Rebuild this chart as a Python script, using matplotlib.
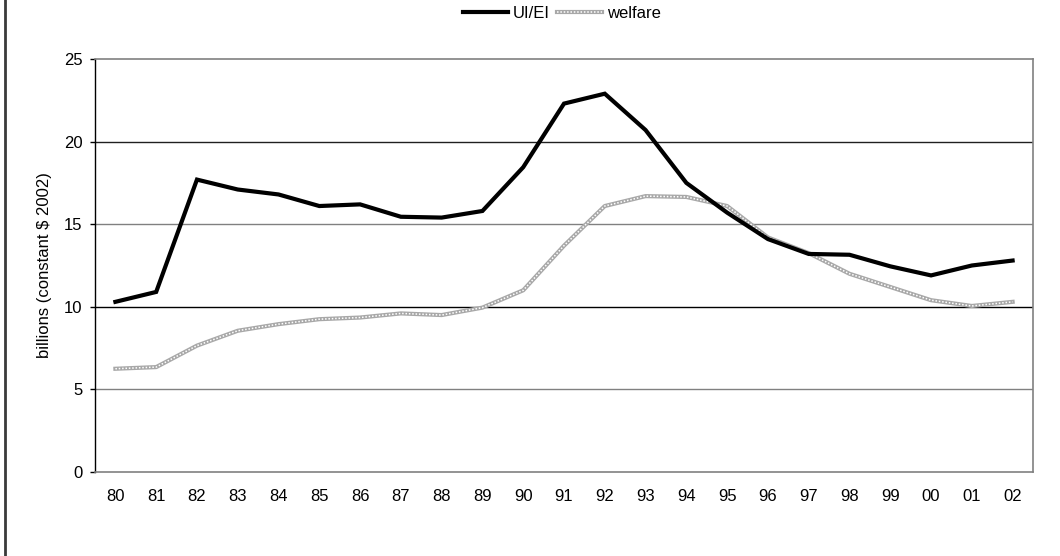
import matplotlib
matplotlib.use("Agg")
import matplotlib.pyplot as plt
from matplotlib.lines import Line2D
from matplotlib.legend_handler import HandlerTuple
import numpy as np

plt.rcParams['font.family'] = ['Liberation Sans', 'DejaVu Sans']

years = ["80", "81", "82", "83", "84", "85", "86", "87", "88", "89", "90", "91",
         "92", "93", "94", "95", "96", "97", "98", "99", "00", "01", "02"]
ui_ei = [10.3, 10.9, 17.7, 17.1, 16.8, 16.1, 16.2, 15.45, 15.4, 15.8, 18.45, 22.3,
         22.9, 20.7, 17.5, 15.7, 14.1, 13.2, 13.15, 12.45, 11.9, 12.5, 12.8]
welfare = [6.25, 6.35, 7.65, 8.55, 8.95, 9.25, 9.35, 9.6, 9.5, 9.95, 11.0, 13.7,
           16.1, 16.7, 16.65, 16.1, 14.2, 13.25, 12.0, 11.2, 10.4, 10.05, 10.3]
yticks = [0, 5, 10, 15, 20, 25]

fig = plt.figure(figsize=(10.6, 5.56), dpi=100)
ax = fig.add_axes([95/1060, 1-472/556, (1033-95)/1060, (472-59)/556])

x = np.arange(len(years))

# gridlines
grid_colors = {5: '#808080', 10: '#000000', 15: '#808080', 20: '#202020'}
for v, c in grid_colors.items():
    ax.axhline(v, color=c, lw=1.0, zorder=1)

# welfare: hatched gray line
w1, = ax.plot(x, welfare, color='#a8a8a8', lw=3.0, solid_joinstyle='round', zorder=2)
w2, = ax.plot(x, welfare, color='white', lw=1.1, ls=(0, (1, 1.2)), zorder=2.1)
# UI/EI
u1, = ax.plot(x, ui_ei, color='black', lw=3.0, solid_joinstyle='miter', zorder=3)

ax.set_xlim(-0.5, len(years)-0.5)
ax.set_ylim(0, 25)
ax.set_xticks(x)
ax.set_xticklabels(years, fontsize=12)
ax.set_yticks(yticks)
ax.set_yticklabels([str(t) for t in yticks], fontsize=12)
ax.tick_params(axis='x', length=0, pad=12)
ax.tick_params(axis='y', length=3.6, width=1, direction='out', color='black', pad=5.5)

for s in ['top', 'right', 'bottom']:
    ax.spines[s].set_color('#808080')
    ax.spines[s].set_linewidth(1.2)
ax.spines['left'].set_color('black')
ax.spines['left'].set_linewidth(1.0)

ax.set_ylabel("billions (constant $ 2002)", fontsize=12)
ax.yaxis.set_label_coords((45 - 95) / 938, 0.5)
ax.yaxis.label.set_verticalalignment('center')

# legend
fig.legend([u1, (w1, w2)], ["UI/EI", "welfare"], loc='upper center',
           bbox_to_anchor=(562/1060, 1.016),
           handler_map={tuple: HandlerTuple(ndivide=1, pad=0)},
           ncol=2, frameon=False, fontsize=12, handlelength=2.7, handletextpad=0.3,
           columnspacing=0.45)

# left figure border
fig.add_artist(Line2D([4.5/1060, 4.5/1060], [0, 1], color='#3a3a3a', lw=2.0, transform=fig.transFigure))

fig.savefig("out.png", dpi=100)
